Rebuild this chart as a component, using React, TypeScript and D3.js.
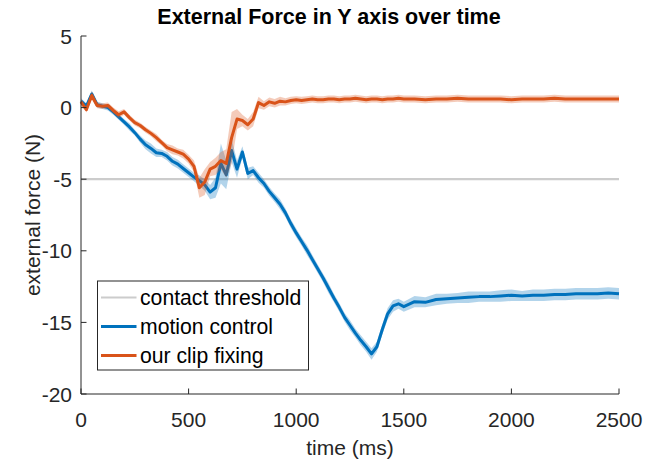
import React from 'react';
import * as d3 from 'd3';

// time stamps (ms)
const TIME = [
  0, 25, 50, 75, 100, 125, 150, 175, 200, 225, 250, 275, 300, 325, 350, 375, 400, 425, 450, 475,
  500, 525, 550, 575, 600, 625, 650, 675, 700, 725, 750, 775, 800, 825, 850, 875, 900, 925, 950, 975,
  1000, 1025, 1050, 1075, 1100, 1125, 1150, 1175, 1200, 1225, 1250, 1275, 1300, 1325, 1350, 1375, 1400, 1425, 1450, 1475, 1500,
  1550, 1600, 1650, 1700, 1750, 1800, 1850, 1900, 1950, 2000, 2050, 2100, 2150, 2200, 2250, 2300, 2350, 2400, 2450, 2500,
];

// motion control mean force (N)
const MOTION = [
  0.45, 0.1, 0.95, 0.2, 0.1, 0.0, -0.3, -0.65, -1.0, -1.35,
  -1.75, -2.2, -2.6, -2.85, -3.15, -3.2, -3.4, -3.75, -3.95, -4.25,
  -4.55, -4.85, -5.1, -5.4, -5.9, -5.6, -3.9, -4.7, -3.0, -4.3,
  -3.1, -4.6, -4.4, -4.9, -5.3, -5.85, -6.3, -6.75, -7.35, -8.1,
  -8.75, -9.35, -9.95, -10.6, -11.25, -11.9, -12.6, -13.3, -13.95, -14.65, -15.2, -15.75, -16.25, -16.7, -17.2, -16.7, -15.5, -14.4, -13.85, -13.7, -13.9,
  -13.55, -13.6, -13.4, -13.35, -13.3, -13.25, -13.2, -13.2, -13.15, -13.1, -13.15, -13.1, -13.1, -13.05, -13.05, -13.0, -13.0, -13.0, -12.95, -13.0,
];
const MOTION_SPREAD = [
  0.2, 0.2, 0.25, 0.2, 0.2, 0.2, 0.2, 0.2, 0.2, 0.25,
  0.2, 0.25, 0.3, 0.35, 0.3, 0.25, 0.3, 0.3, 0.3, 0.3,
  0.3, 0.3, 0.35, 0.4, 0.5, 0.7, 1.4, 1.0, 0.8, 0.6,
  0.4, 0.4, 0.3, 0.35, 0.3, 0.3, 0.3, 0.35, 0.3, 0.3,
  0.3, 0.3, 0.35, 0.3, 0.3, 0.3, 0.35, 0.3, 0.3, 0.3, 0.35, 0.3, 0.35, 0.35, 0.4, 0.35, 0.35, 0.4, 0.4, 0.35, 0.35,
  0.4, 0.35, 0.4, 0.35, 0.35, 0.4, 0.35, 0.35, 0.4, 0.4, 0.35, 0.4, 0.4, 0.4, 0.4, 0.4, 0.4, 0.4, 0.4, 0.4,
];

// our clip fixing mean force (N)
const CLIP = [
  0.4, -0.15, 0.85, 0.15, 0.1, 0.15, -0.2, -0.5, -0.3, -0.7,
  -1.05, -1.25, -1.55, -1.8, -2.1, -2.45, -2.8, -2.95, -3.1, -3.25,
  -3.6, -4.1, -5.6, -5.2, -4.3, -4.1, -3.7, -3.9, -2.1, -0.8,
  -0.9, -1.2, -0.8, 0.35, 0.15, 0.4, 0.3, 0.45, 0.4, 0.5,
  0.55, 0.5, 0.55, 0.6, 0.55, 0.55, 0.6, 0.6, 0.55, 0.6, 0.6, 0.65, 0.6, 0.55, 0.6, 0.6, 0.55, 0.6, 0.6, 0.65, 0.6,
  0.6, 0.55, 0.6, 0.6, 0.65, 0.6, 0.6, 0.6, 0.6, 0.55, 0.6, 0.6, 0.6, 0.65, 0.6, 0.6, 0.6, 0.6, 0.6, 0.6,
];
const CLIP_SPREAD = [
  0.2, 0.2, 0.3, 0.2, 0.2, 0.2, 0.2, 0.25, 0.2, 0.2,
  0.2, 0.2, 0.2, 0.2, 0.25, 0.2, 0.25, 0.3, 0.25, 0.3,
  0.3, 0.4, 0.7, 0.9, 0.5, 0.6, 0.6, 1.0, 1.8, 0.7,
  0.4, 0.4, 0.5, 0.4, 0.3, 0.3, 0.3, 0.3, 0.25, 0.25,
  0.25, 0.25, 0.25, 0.25, 0.25, 0.25, 0.25, 0.25, 0.25, 0.25, 0.25, 0.25, 0.25, 0.25, 0.25, 0.25, 0.25, 0.25, 0.25, 0.25, 0.25,
  0.25, 0.25, 0.25, 0.25, 0.25, 0.25, 0.25, 0.25, 0.25, 0.25, 0.25, 0.25, 0.25, 0.25, 0.25, 0.25, 0.25, 0.25, 0.25, 0.25,
];

const THRESHOLD = -5;
const X_TICKS = [0, 500, 1000, 1500, 2000, 2500];
const Y_TICKS = [-20, -15, -10, -5, 0, 5];
const LEGEND = ['contact threshold', 'motion control', 'our clip fixing'];

const BLUE = '#0072BD';
const ORANGE = '#D95319';
const GREY = '#cccccc';
const AXIS = '#262626';
const FONT = '"Liberation Sans", Arial, Helvetica, sans-serif';

const W = 646;
const H = 466;
const m = { left: 81, right: 27, top: 36, bottom: 72 };

export default function App() {
  const x = d3.scaleLinear().domain([0, 2500]).range([m.left, W - m.right]);
  const y = d3.scaleLinear().domain([-20, 5]).range([H - m.bottom, m.top]);

  const idx = TIME.map((_, i) => i);
  const line = (vals: number[]) =>
    d3.line<number>().x(i => x(TIME[i])).y(i => y(vals[i]))(idx) || '';
  const band = (vals: number[], spread: number[]) =>
    d3
      .area<number>()
      .x(i => x(TIME[i]))
      .y0(i => y(vals[i] - spread[i]))
      .y1(i => y(vals[i] + spread[i]))(idx) || '';

  const x0 = x(0);
  const x1 = x(2500);
  const yb = y(-20);
  const yt = y(5);
  const tick = 5.5;

  const legendColors = [GREY, BLUE, ORANGE];
  const lg = { x: 97.5, y: 281, w: 211, h: 89 };

  return (
    <svg width={W} height={H} style={{ position: 'absolute', left: 0, top: 0, background: '#fff' }}>
      <text x={329} y={24} textAnchor="middle" fontFamily={FONT} fontWeight="bold" fontSize={21.5} fill="#000">
        External Force in Y axis over time
      </text>

      <line x1={x0} x2={x1} y1={y(THRESHOLD)} y2={y(THRESHOLD)} stroke={GREY} strokeWidth={2.2} />

      <path d={band(MOTION, MOTION_SPREAD)} fill={BLUE} fillOpacity={0.3} stroke="none" />
      <path d={line(MOTION)} fill="none" stroke={BLUE} strokeWidth={3} strokeLinejoin="round" />
      <path d={band(CLIP, CLIP_SPREAD)} fill={ORANGE} fillOpacity={0.3} stroke="none" />
      <path d={line(CLIP)} fill="none" stroke={ORANGE} strokeWidth={3} strokeLinejoin="round" />

      {/* axes */}
      <line x1={x0} x2={x1} y1={yb} y2={yb} stroke={AXIS} strokeWidth={1} />
      <line x1={x0} x2={x0} y1={yb} y2={yt} stroke={AXIS} strokeWidth={1} />
      {X_TICKS.map(t => (
        <g key={'x' + t}>
          <line x1={x(t)} x2={x(t)} y1={yb} y2={yb - tick} stroke={AXIS} strokeWidth={1} />
          <text x={x(t)} y={427} textAnchor="middle" fontFamily={FONT} fontSize={21} fill={AXIS}>
            {t}
          </text>
        </g>
      ))}
      {Y_TICKS.map(t => (
        <g key={'y' + t}>
          <line x1={x0} x2={x0 + tick} y1={y(t)} y2={y(t)} stroke={AXIS} strokeWidth={1} />
          <text x={72} y={y(t) + 7.5} textAnchor="end" fontFamily={FONT} fontSize={21} fill={AXIS}>
            {t}
          </text>
        </g>
      ))}
      <text x={(x0 + x1) / 2} y={455} textAnchor="middle" fontFamily={FONT} fontSize={21} fill={AXIS}>
        time (ms)
      </text>
      <text
        transform={`translate(40,${(yb + yt) / 2}) rotate(-90)`}
        textAnchor="middle"
        fontFamily={FONT}
        fontSize={21}
        fill={AXIS}
      >
        external force (N)
      </text>

      {/* legend */}
      <rect x={lg.x} y={lg.y} width={lg.w} height={lg.h} fill="#fff" stroke={AXIS} strokeWidth={1} />
      {LEGEND.map((name, i) => {
        const ly = 297.5 + i * 29;
        return (
          <g key={name}>
            <line x1={101} x2={136.5} y1={ly} y2={ly} stroke={legendColors[i]} strokeWidth={i === 0 ? 2.2 : 3} />
            <text x={140} y={ly + 7.5} fontFamily={FONT} fontSize={21.2} fill="#000">
              {name}
            </text>
          </g>
        );
      })}
    </svg>
  );
}
